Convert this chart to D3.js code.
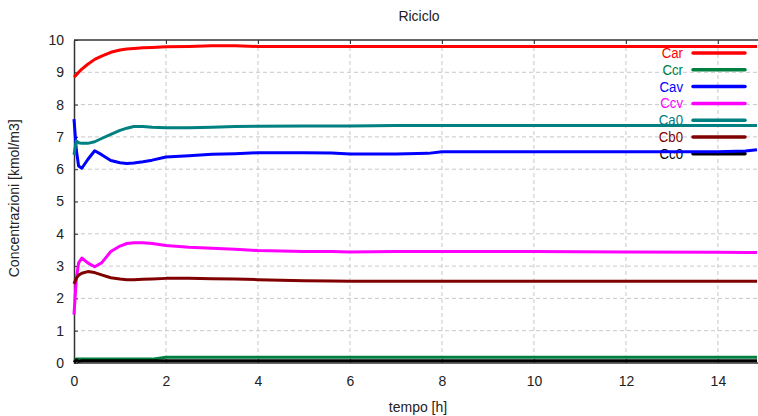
<!DOCTYPE html>
<html>
<head>
<meta charset="utf-8">
<script src="https://cdn.jsdelivr.net/npm/d3@7"></script>
<style>
  body { margin: 0; background: #fff; }
  text { font-family: "Liberation Sans", Arial, sans-serif; }
</style>
</head>
<body>
<svg id="chart" width="758" height="416"></svg>
<script>
// time samples [h]
var tempo = [0, 0.05, 0.1, 0.17, 0.3, 0.45, 0.6, 0.8, 1.0, 1.15, 1.3, 1.5, 1.7, 2.0, 2.5, 3.0, 3.5, 4.0, 5.0, 5.6, 6.0, 7.0, 7.7, 8.0, 10, 12, 14, 14.6, 14.85];

var car = [8.85, 8.92, 9.0, 9.1, 9.25, 9.4, 9.5, 9.62, 9.69, 9.72, 9.74, 9.76, 9.77, 9.79, 9.8, 9.82, 9.82, 9.8, 9.8, 9.8, 9.8, 9.8, 9.8, 9.8, 9.8, 9.8, 9.8, 9.8, 9.8];
var ccr = [0.1, 0.12, 0.12, 0.12, 0.12, 0.12, 0.12, 0.12, 0.12, 0.12, 0.12, 0.12, 0.12, 0.18, 0.18, 0.18, 0.18, 0.18, 0.18, 0.18, 0.18, 0.18, 0.18, 0.18, 0.18, 0.18, 0.18, 0.18, 0.18];
var cav = [7.55, 6.6, 6.1, 6.03, 6.3, 6.57, 6.45, 6.27, 6.2, 6.18, 6.19, 6.23, 6.28, 6.38, 6.42, 6.46, 6.48, 6.51, 6.51, 6.5, 6.47, 6.47, 6.49, 6.54, 6.54, 6.54, 6.54, 6.56, 6.6];
var ccv = [1.5, 2.6, 3.1, 3.25, 3.1, 2.98, 3.1, 3.45, 3.62, 3.7, 3.72, 3.72, 3.7, 3.64, 3.58, 3.55, 3.52, 3.48, 3.45, 3.45, 3.44, 3.45, 3.45, 3.45, 3.45, 3.44, 3.43, 3.42, 3.42];
var ca0 = [6.45, 6.88, 6.82, 6.8, 6.8, 6.85, 6.95, 7.08, 7.2, 7.27, 7.32, 7.32, 7.3, 7.28, 7.28, 7.3, 7.32, 7.33, 7.34, 7.34, 7.34, 7.35, 7.35, 7.35, 7.35, 7.35, 7.35, 7.35, 7.35];
var cb0 = [2.45, 2.62, 2.72, 2.78, 2.83, 2.8, 2.73, 2.64, 2.6, 2.58, 2.58, 2.59, 2.6, 2.62, 2.62, 2.61, 2.6, 2.58, 2.55, 2.54, 2.53, 2.53, 2.53, 2.53, 2.53, 2.53, 2.53, 2.53, 2.53];
var cc0 = [0.02, 0.1, 0.05, 0.07, 0.07, 0.07, 0.07, 0.07, 0.07, 0.07, 0.07, 0.07, 0.07, 0.07, 0.07, 0.07, 0.07, 0.07, 0.07, 0.07, 0.07, 0.07, 0.07, 0.07, 0.07, 0.07, 0.07, 0.07, 0.07];

var seriesNames = ["Car", "Ccr", "Cav", "Ccv", "Ca0", "Cb0", "Cc0"];
var seriesValues = [car, ccr, cav, ccv, ca0, cb0, cc0];
var seriesColors = ["#ff0000", "#008040", "#0000ff", "#ff00ff", "#008080", "#800000", "#000000"];

var xTicks = [0, 2, 4, 6, 8, 10, 12, 14];
var yTicks = [0, 1, 2, 3, 4, 5, 6, 7, 8, 9, 10];

var svg = d3.select("#chart");
var margin = {left: 74, top: 40, right: 1, bottom: 53};
var width = +svg.attr("width");
var height = +svg.attr("height");

var x = d3.scaleLinear().domain([0, 14.85]).range([margin.left, width - margin.right]);
var y = d3.scaleLinear().domain([0, 10]).range([height - margin.bottom, margin.top]);

// grid
svg.append("g")
  .selectAll("line")
  .data(xTicks.slice(1))
  .enter()
  .append("line")
    .attr("x1", d => x(d)).attr("x2", d => x(d))
    .attr("y1", y(10)).attr("y2", y(0))
    .attr("stroke", "#c8c8c8")
    .attr("stroke-dasharray", "4,3");

svg.append("g")
  .selectAll("line")
  .data(yTicks.slice(1, -1))
  .enter()
  .append("line")
    .attr("x1", x(0)).attr("x2", width)
    .attr("y1", d => y(d)).attr("y2", d => y(d))
    .attr("stroke", "#c8c8c8")
    .attr("stroke-dasharray", "4,3");

// axes
var axisColor = "#333";
var xAxis = svg.append("g")
  .attr("transform", "translate(0," + y(0) + ")")
  .call(d3.axisBottom(x).tickValues(xTicks).tickSizeInner(-4).tickSizeOuter(0).tickPadding(13));
var xTop = svg.append("g")
  .attr("transform", "translate(0," + y(10) + ")")
  .call(d3.axisTop(x).tickValues(xTicks).tickSizeInner(-4).tickSizeOuter(0).tickFormat(""));
var yAxis = svg.append("g")
  .attr("transform", "translate(" + x(0) + ",0)")
  .call(d3.axisLeft(y).tickValues(yTicks).tickSizeInner(-4).tickSizeOuter(0).tickPadding(10));

[xAxis, xTop, yAxis].forEach(function(g) {
  g.select(".domain").attr("stroke", axisColor).attr("stroke-width", 1.5);
  g.selectAll(".tick line").attr("stroke", axisColor);
  g.selectAll(".tick text")
    .attr("fill", "#222")
    .style("font-size", "14px")
    .style("font-family", "'Liberation Sans', Arial, sans-serif");
});
xTop.select(".domain").attr("d", "M" + x(0) + ",0H" + width);
xAxis.select(".domain").attr("d", "M" + x(0) + ",0H" + width);

// legend
var legend = svg.append("g");
seriesNames.forEach(function(name, i) {
  var ly = 53 + i * 16.8;
  legend.append("text")
    .attr("transform", "translate(683," + (ly + 5) + ") scale(0.88,1)")
    .attr("text-anchor", "end")
    .attr("fill", seriesColors[i])
    .style("font-size", "15px")
    .text(name);
  legend.append("line")
    .attr("x1", 693).attr("x2", 745)
    .attr("y1", ly).attr("y2", ly)
    .attr("stroke", seriesColors[i])
    .attr("stroke-width", 3.5)
    .attr("stroke-linecap", "round");
});

// series
var line = d3.line()
  .x((d, i) => x(tempo[i]))
  .y(d => y(d));

svg.append("g")
  .selectAll("path")
  .data(seriesValues)
  .enter()
  .append("path")
    .attr("d", line)
    .attr("fill", "none")
    .attr("stroke", (d, i) => seriesColors[i])
    .attr("stroke-width", 3)
    .attr("stroke-linejoin", "round");

// titles
svg.append("text")
  .attr("x", 419)
  .attr("y", 21)
  .attr("text-anchor", "middle")
  .attr("fill", "#222")
  .style("font-size", "14px")
  .text("Riciclo");

svg.append("text")
  .attr("x", 418)
  .attr("y", 412)
  .attr("text-anchor", "middle")
  .attr("fill", "#222")
  .style("font-size", "14px")
  .text("tempo [h]");

svg.append("text")
  .attr("transform", "translate(19," + y(5.1) + ") rotate(-90)")
  .attr("text-anchor", "middle")
  .attr("fill", "#222")
  .style("font-size", "14px")
  .text("Concentrazioni [kmol/m3]");
</script>
</body>
</html>
